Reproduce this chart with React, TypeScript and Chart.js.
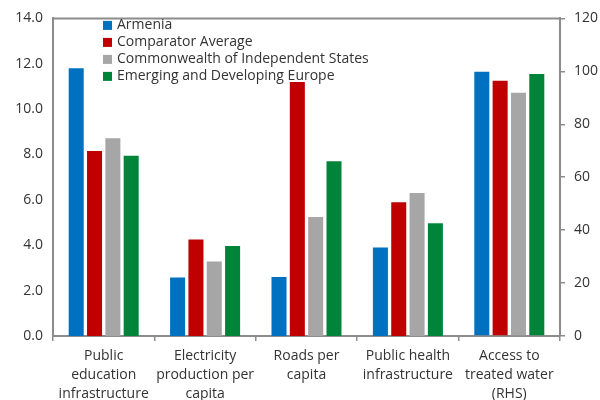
import React, { useEffect, useRef } from "react";
import { Chart, registerables } from "chart.js";

Chart.register(...registerables);

const categories: string[][] = [
  ["Public", "education", "infrastructure"],
  ["Electricity", "production per", "capita"],
  ["Roads per", "capita"],
  ["Public health", "infrastructure"],
  ["Access to", "treated water", "(RHS)"],
];

const seriesNames = [
  "Armenia",
  "Comparator Average",
  "Commonwealth of Independent States",
  "Emerging and Developing Europe",
];
const seriesColors = ["#0070C0", "#C00000", "#A6A6A6", "#00843A"];

// Left-hand scale values (first four categories)
const armeniaLHS = [11.8, 2.58, 2.6, 3.9, null];
const comparatorLHS = [8.15, 4.25, 11.2, 5.9, null];
const cisLHS = [8.72, 3.28, 5.25, 6.3, null];
const edeLHS = [7.95, 3.97, 7.7, 4.97, null];

// Right-hand scale values (access to treated water)
const armeniaRHS = [null, null, null, null, 99.8];
const comparatorRHS = [null, null, null, null, 96.4];
const cisRHS = [null, null, null, null, 91.9];
const edeRHS = [null, null, null, null, 99.0];

const leftTicks = [0, 2, 4, 6, 8, 10, 12, 14];
const rightTicks = [0, 20, 40, 60, 80, 100, 120];

const FONT = "'Open Sans', 'Noto Sans', sans-serif";
const TEXT = "#333333";
const AXIS = "#8c8c8c";

export default function App() {
  const ref = useRef<HTMLCanvasElement | null>(null);

  useEffect(() => {
    if (!ref.current) return;
    const lhs = [armeniaLHS, comparatorLHS, cisLHS, edeLHS];
    const rhs = [armeniaRHS, comparatorRHS, cisRHS, edeRHS];
    const datasets: any[] = [];
    lhs.forEach((d, i) =>
      datasets.push({
        label: seriesNames[i],
        data: d,
        backgroundColor: seriesColors[i],
        yAxisID: "y",
        stack: "s" + i,
      })
    );
    rhs.forEach((d, i) =>
      datasets.push({
        label: seriesNames[i] + " (RHS)",
        data: d,
        backgroundColor: seriesColors[i],
        yAxisID: "y1",
        stack: "s" + i,
      })
    );

    const boxAndLegend = {
      id: "boxAndLegend",
      afterDraw(chart: any) {
        const { ctx, chartArea } = chart;
        ctx.save();
        ctx.strokeStyle = AXIS;
        ctx.lineWidth = 2;
        ctx.beginPath();
        ctx.moveTo(chartArea.left, chartArea.top);
        ctx.lineTo(chartArea.right, chartArea.top);
        ctx.stroke();
        // legend
        ctx.font = `14px ${FONT}`;
        ctx.textBaseline = "middle";
        const x0 = chartArea.left + 50;
        const y0 = chartArea.top + 7;
        for (let i = 0; i < 4; i++) {
          const ds = chart.data.datasets[i];
          const y = y0 + i * 17;
          ctx.fillStyle = ds.backgroundColor;
          ctx.fillRect(x0, y - 4.5, 9, 9);
          ctx.fillStyle = TEXT;
          ctx.fillText(ds.label, x0 + 14, y);
        }
        ctx.restore();
      },
    };

    const chart = new Chart(ref.current, {
      type: "bar",
      data: { labels: categories as any, datasets },
      options: {
        animation: false,
        responsive: false,
        maintainAspectRatio: false,
        layout: { padding: { top: 8, right: 2, left: 0, bottom: 0 } },
        datasets: {
          bar: { categoryPercentage: 0.723, barPercentage: 0.82 },
        },
        plugins: {
          legend: { display: false },
          tooltip: { enabled: false },
        },
        scales: {
          x: {
            grid: {
              offset: true,
              drawOnChartArea: false,
              drawTicks: true,
              tickLength: 5,
              color: AXIS,
              lineWidth: 1.5,
            },
            border: { display: true, color: AXIS, width: 2 },
            ticks: {
              color: TEXT,
              font: { family: FONT, size: 14, lineHeight: 1.36 },
              padding: 5,
              maxRotation: 0,
              autoSkip: false,
            },
            afterFit(scale: any) {
              scale.height = 64;
            },
          },
          y: {
            position: "left",
            min: 0,
            max: 14,
            afterBuildTicks(scale: any) {
              scale.ticks = leftTicks.map((v) => ({ value: v }));
            },
            grid: { display: false, drawTicks: false },
            border: { display: true, color: AXIS, width: 2 },
            ticks: {
              color: TEXT,
              font: { family: FONT, size: 14 },
              padding: 10,
              callback: (v: any) => Number(v).toFixed(1),
            },
            afterFit(scale: any) {
              scale.width = 53;
            },
          },
          y1: {
            position: "right",
            min: 0,
            max: 120,
            afterBuildTicks(scale: any) {
              scale.ticks = rightTicks.map((v) => ({ value: v }));
            },
            grid: {
              drawOnChartArea: false,
              drawTicks: true,
              tickLength: 5,
              color: AXIS,
              lineWidth: 1.5,
            },
            border: { display: true, color: AXIS, width: 2 },
            ticks: {
              color: TEXT,
              font: { family: FONT, size: 14 },
              padding: 9,
            },
            afterFit(scale: any) {
              scale.width = 38;
            },
          },
        },
      },
      plugins: [boxAndLegend],
    } as any);
    return () => chart.destroy();
  }, []);

  return (
    <div style={{ position: "fixed", left: 0, top: 0, width: 600, height: 400, background: "#fff" }}>
      <canvas ref={ref} width={600} height={400} style={{ display: "block", width: 600, height: 400 }} />
    </div>
  );
}
